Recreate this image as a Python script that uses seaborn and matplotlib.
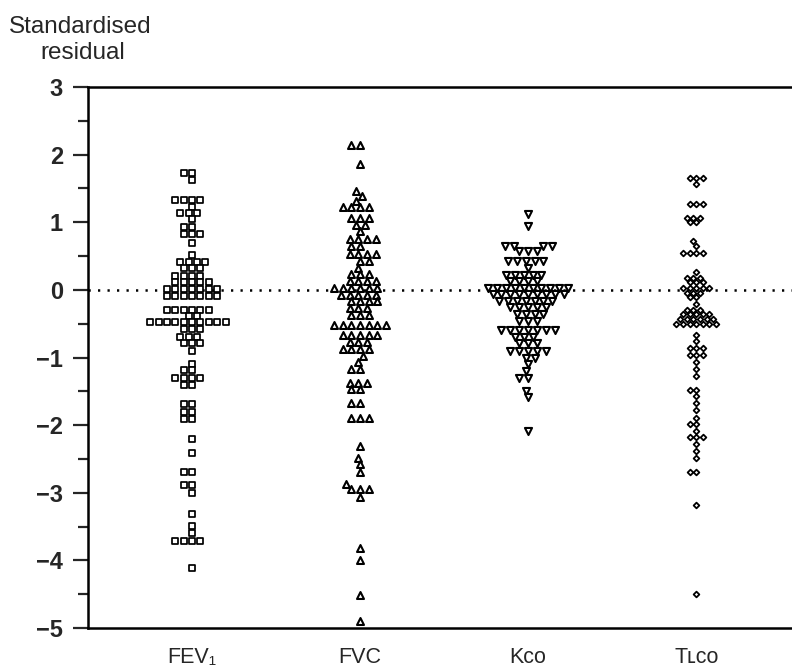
import numpy as np
import matplotlib
matplotlib.use("Agg")
import matplotlib.pyplot as plt
import seaborn as sns

sns.set_style("ticks")
plt.rcParams['font.family'] = ['Liberation Sans', 'DejaVu Sans']

categories = ["FEV1", "FVC", "KCO", "TLCO"]
tick_labels = ["FEV\u2081", "FVC", "K\u1d04\u1d0f", "T\u029f\u1d04\u1d0f"]

fev1_levels = [1.73, 1.63, 1.33, 1.23, 1.14, 1.05, 0.93, 0.83, 0.70, 0.52, 0.41, 0.32,
               0.21, 0.11, 0.01, -0.09, -0.29, -0.39, -0.48, -0.58, -0.70, -0.79, -0.90,
               -1.09, -1.19, -1.30, -1.41, -1.69, -1.80, -1.91, -2.21, -2.41, -2.70,
               -2.88, -3.00, -3.31, -3.49, -3.60, -3.71, -4.12]
fev1_counts = [2, 1, 4, 1, 3, 1, 2, 3, 1, 1, 4, 3,
               4, 5, 7, 7, 6, 2, 10, 3, 3, 3, 1,
               1, 2, 4, 2, 2, 2, 2, 1, 1, 2,
               2, 1, 1, 1, 1, 4, 1]

fvc_levels = [2.14, 1.86, 1.46, 1.39, 1.32, 1.23, 1.06, 0.96, 0.87, 0.75, 0.65, 0.53,
              0.43, 0.33, 0.23, 0.13, 0.03, -0.07, -0.17, -0.27, -0.37, -0.52, -0.67,
              -0.77, -0.87, -0.98, -1.07, -1.17, -1.37, -1.47, -1.67, -1.89, -2.31,
              -2.48, -2.58, -2.70, -2.87, -2.95, -3.07, -3.81, -4.00, -4.51, -4.90]
fvc_counts = [2, 1, 1, 1, 1, 4, 3, 2, 1, 4, 2, 4,
              2, 1, 3, 4, 6, 5, 4, 3, 3, 7, 5,
              3, 4, 1, 1, 2, 3, 2, 2, 3, 1,
              1, 1, 1, 1, 3, 1, 1, 1, 1, 1]

kco_levels = [1.12, 0.95, 0.65, 0.57, 0.43, 0.33, 0.22, 0.13, 0.03, -0.06, -0.16,
              -0.26, -0.36, -0.46, -0.59, -0.70, -0.79, -0.90, -1.00, -1.10, -1.20,
              -1.30, -1.49, -1.59, -2.09]
kco_counts = [1, 1, 4, 3, 5, 1, 5, 4, 10, 9, 7,
              5, 4, 3, 7, 3, 3, 5, 2, 1, 1,
              2, 1, 1, 1]

tlco_levels = [1.66, 1.56, 1.27, 1.07, 1.00, 0.72, 0.65, 0.55, 0.26, 0.18, 0.11, 0.03,
               -0.04, -0.11, -0.21, -0.29, -0.36, -0.43, -0.50, -0.67, -0.76, -0.86,
               -0.96, -1.07, -1.17, -1.27, -1.48, -1.57, -1.67, -1.77, -1.89, -1.98,
               -2.09, -2.18, -2.28, -2.38, -2.48, -2.69, -3.18, -4.50]
tlco_counts = [3, 1, 3, 3, 2, 1, 1, 4, 1, 3, 3, 5,
               3, 2, 1, 3, 5, 6, 7, 1, 1, 3,
               3, 1, 1, 1, 2, 1, 1, 1, 1, 2,
               1, 3, 1, 1, 1, 2, 1, 1]

# (levels, counts, marker, layout size, layout lw, drawn size, drawn lw)
series = [
    (fev1_levels, fev1_counts, "s", 4.55, 1.2, 4.3, 1.25),
    (fvc_levels, fvc_counts, "^", 4.75, 1.2, 5.0, 1.5),
    (kco_levels, kco_counts, "v", 4.9, 1.2, 5.1, 1.5),
    (tlco_levels, tlco_counts, "D", 3.35, 1.2, 2.9, 1.3),
]

fig = plt.figure(figsize=(7.92, 6.70), dpi=100)
ax = fig.add_axes([0.111, 0.0627, 0.889, 0.8074])

colls = []
for cat, (lv, ct, mk, sz, lw, dsz, dlw) in zip(categories, series):
    vals = np.repeat(np.array(lv), np.array(ct))
    n0 = len(ax.collections)
    sns.swarmplot(x=[cat] * len(vals), y=vals, order=categories, marker=mk,
                  size=sz, color="white", edgecolor="black", linewidth=lw,
                  ax=ax, zorder=3, warn_thresh=1.0)
    colls.append((ax.collections[n0:], dsz, dlw))

ax.axhline(0, color="black", lw=1.8, ls=(0, (0.9, 2.9)), zorder=1)

ax.set_xlim(-0.62, 3.57)
ax.set_xticks(range(4))
ax.set_xticklabels(tick_labels, fontsize=15.5)
ax.tick_params(axis="x", length=0, pad=14)
ax.set_xlabel("")
ax.set_ylabel("")

# swarm layout pass with a slightly stretched value axis so neighbouring
# rows (0.1 apart) stack as in the original, then freeze the positions
k = 1.2
ax.set_ylim(-1 - 4 / k, -1 + 4 / k)
fig.canvas.draw()
for cs, dsz, dlw in colls:
    for c in cs:
        if "draw" in c.__dict__:
            del c.draw
        c.set_sizes([dsz ** 2])
        c.set_linewidth(dlw)

ax.set_ylim(-5, 3)
ax.set_yticks(range(-5, 4))
ax.set_yticklabels([str(v).replace("-", "\u2212") for v in range(-5, 4)],
                   fontsize=17, fontweight="bold")
ax.set_yticks(np.arange(-4.5, 3, 1.0), minor=True)
ax.tick_params(axis="y", which="major", length=11, width=1.6, pad=7, direction="out")
ax.tick_params(axis="y", which="minor", length=7, width=1.6, direction="out")

for side in ["left", "bottom", "top"]:
    ax.spines[side].set_visible(True)
    ax.spines[side].set_linewidth(1.8)
    ax.spines[side].set_color("black")
ax.spines["right"].set_visible(False)

fig.text(0.101, 0.959, "Standardised", ha="center", va="center", fontsize=17.5)
fig.text(0.104, 0.921, "residual", ha="center", va="center", fontsize=17.5)

fig.savefig("out.png", dpi=100)
